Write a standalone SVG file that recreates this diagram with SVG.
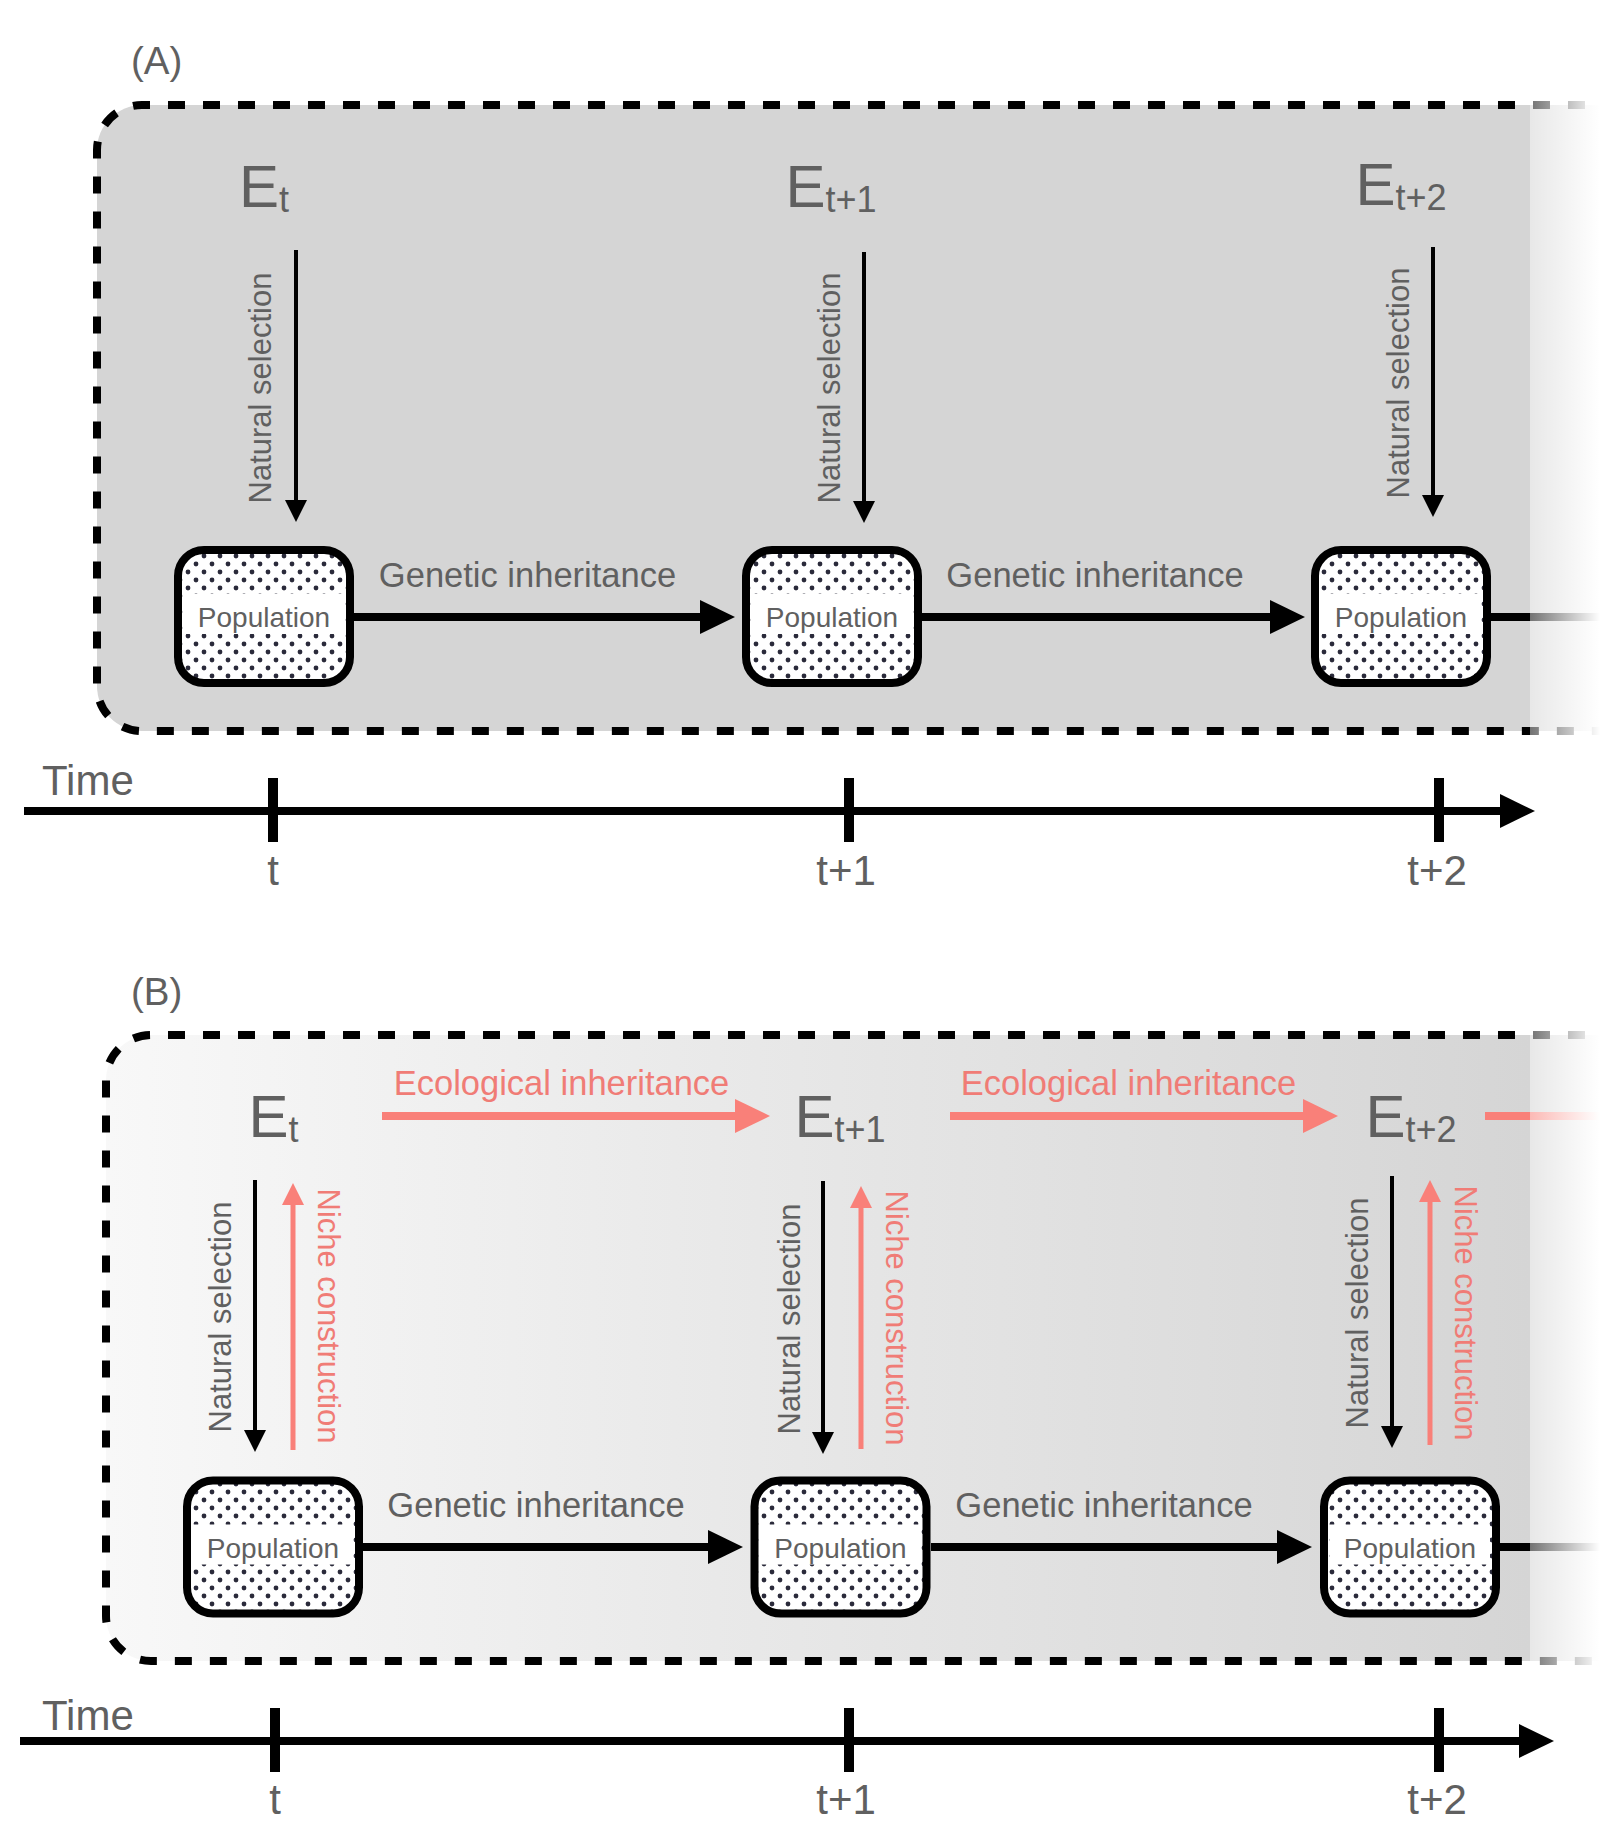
<svg xmlns="http://www.w3.org/2000/svg" width="1600" height="1844" viewBox="0 0 1600 1844">
<defs>
<style>
text { font-family: "Liberation Sans", Arial, Helvetica, sans-serif; fill: #606060; }
.lbl { font-size: 38.5px; }
.E { font-size: 60px; }
.sub { font-size: 36px; }
.ns { font-size: 31px; }
.gi { font-size: 34.5px; }
.red { fill: #f07c76; }
.pop { font-size: 28px; }
.time { font-size: 42px; }
.tick { font-size: 42px; }
.frame { fill: none; stroke: #000; stroke-width: 8; stroke-dasharray: 17 18; }
.box { fill: url(#dots); stroke: #000; stroke-width: 8; }
.labelbg { fill: #fff; }
.thick { stroke: #000; stroke-width: 8; fill: none; }
.thin { stroke: #000; stroke-width: 4; fill: none; }
.redthin { stroke: #f98079; stroke-width: 5; fill: none; }
.redthick { stroke: #f98079; stroke-width: 8; fill: none; }
.tickmark { stroke: #000; stroke-width: 10; }
</style>
<pattern id="dots" patternUnits="userSpaceOnUse" width="16" height="16">
<rect width="16" height="16" fill="#fff"/>
<circle cx="4" cy="4" r="2.4" fill="#2a2a3a"/>
<circle cx="12" cy="12" r="2.4" fill="#2a2a3a"/>
</pattern>
<marker id="hBig" viewBox="0 -17 35 34" markerWidth="35" markerHeight="34" refX="1" refY="0" orient="auto" markerUnits="userSpaceOnUse">
<path d="M0,-17 L35,0 L0,17 Z" fill="#000"/>
</marker>
<marker id="hBigRed" viewBox="0 -17 35 34" markerWidth="35" markerHeight="34" refX="1" refY="0" orient="auto" markerUnits="userSpaceOnUse">
<path d="M0,-17 L35,0 L0,17 Z" fill="#f98079"/>
</marker>
<marker id="hSm" viewBox="0 -11 22 22" markerWidth="22" markerHeight="22" refX="1" refY="0" orient="auto" markerUnits="userSpaceOnUse">
<path d="M0,-11 L22,0 L0,11 Z" fill="#000"/>
</marker>
<marker id="hSmRed" viewBox="0 -11 22 22" markerWidth="22" markerHeight="22" refX="1" refY="0" orient="auto" markerUnits="userSpaceOnUse">
<path d="M0,-11 L22,0 L0,11 Z" fill="#f98079"/>
</marker>
<linearGradient id="gradB" gradientUnits="userSpaceOnUse" x1="106" y1="0" x2="1530" y2="0">
<stop offset="0" stop-color="#f8f8f8"/>
<stop offset="1" stop-color="#d5d5d5"/>
</linearGradient>
<linearGradient id="fade" x1="0" y1="0" x2="1" y2="0">
<stop offset="0" stop-color="#fff" stop-opacity="0.45"/>
<stop offset="1" stop-color="#fff" stop-opacity="1"/>
</linearGradient>
</defs>

<rect width="1600" height="1844" fill="#fff"/>

<!-- Panel A frame -->
<g id="panelA-frame">
<path d="M1620,105 H142 A45,45 0 0 0 97,150 V686 A45,45 0 0 0 142,731 H1620 Z" fill="#d5d5d5"/>
<path class="frame" d="M1620,105 H142 A45,45 0 0 0 97,150 V686 A45,45 0 0 0 142,731 H1620"/>
<text class="lbl" x="131" y="74">(A)</text>
</g>

<!-- Panel B frame -->
<g id="panelB-frame">
<path d="M1530,1035 H151 A45,45 0 0 0 106,1080 V1616 A45,45 0 0 0 151,1661 H1530 Z" fill="url(#gradB)"/>
<rect x="1530" y="1035" width="90" height="626" fill="#d5d5d5"/>
<path class="frame" d="M1620,1035 H151 A45,45 0 0 0 106,1080 V1616 A45,45 0 0 0 151,1661 H1620"/>
<text class="lbl" x="131" y="1005">(B)</text>
</g>

<!-- Connectors -->
<g id="connectors">
<line class="thin" x1="296" y1="250" x2="296" y2="501" marker-end="url(#hSm)"/>
<line class="thin" x1="864" y1="252" x2="864" y2="502" marker-end="url(#hSm)"/>
<line class="thin" x1="1433" y1="247" x2="1433" y2="496" marker-end="url(#hSm)"/>
<line class="thick" x1="354" y1="617" x2="701" y2="617" marker-end="url(#hBig)"/>
<line class="thick" x1="922" y1="617" x2="1271" y2="617" marker-end="url(#hBig)"/>
<line class="thick" x1="1491" y1="617" x2="1620" y2="617"/>
<line class="thin" x1="255" y1="1180" x2="255" y2="1431" marker-end="url(#hSm)"/>
<line class="thin" x1="823" y1="1181" x2="823" y2="1433" marker-end="url(#hSm)"/>
<line class="thin" x1="1392" y1="1176" x2="1392" y2="1427" marker-end="url(#hSm)"/>
<line class="redthin" x1="293" y1="1450" x2="293" y2="1204" marker-end="url(#hSmRed)"/>
<line class="redthin" x1="861" y1="1449" x2="861" y2="1207" marker-end="url(#hSmRed)"/>
<line class="redthin" x1="1430" y1="1445" x2="1430" y2="1201" marker-end="url(#hSmRed)"/>
<line class="redthick" x1="382" y1="1116" x2="736" y2="1116" marker-end="url(#hBigRed)"/>
<line class="redthick" x1="950" y1="1116" x2="1304" y2="1116" marker-end="url(#hBigRed)"/>
<line class="redthick" x1="1485" y1="1116" x2="1620" y2="1116"/>
<line class="thick" x1="363" y1="1547" x2="709" y2="1547" marker-end="url(#hBig)"/>
<line class="thick" x1="931" y1="1547" x2="1278" y2="1547" marker-end="url(#hBig)"/>
<line class="thick" x1="1500" y1="1547" x2="1620" y2="1547"/>
</g>

<!-- Connector labels -->
<g id="connector-labels">
<text class="ns" transform="translate(271,388) rotate(-90)" text-anchor="middle">Natural selection</text>
<text class="ns" transform="translate(840,388) rotate(-90)" text-anchor="middle">Natural selection</text>
<text class="ns" transform="translate(1409,383) rotate(-90)" text-anchor="middle">Natural selection</text>
<text class="gi" x="527.5" y="587" text-anchor="middle">Genetic inheritance</text>
<text class="gi" x="1095" y="587" text-anchor="middle">Genetic inheritance</text>
<text class="ns" transform="translate(231,1317) rotate(-90)" text-anchor="middle">Natural selection</text>
<text class="ns" transform="translate(800,1319) rotate(-90)" text-anchor="middle">Natural selection</text>
<text class="ns" transform="translate(1368,1313) rotate(-90)" text-anchor="middle">Natural selection</text>
<text class="ns red" transform="translate(318,1316) rotate(90)" text-anchor="middle">Niche construction</text>
<text class="ns red" transform="translate(886,1318) rotate(90)" text-anchor="middle">Niche construction</text>
<text class="ns red" transform="translate(1455,1313) rotate(90)" text-anchor="middle">Niche construction</text>
<text class="gi red" x="561.5" y="1095" text-anchor="middle">Ecological inheritance</text>
<text class="gi red" x="1128.5" y="1095" text-anchor="middle">Ecological inheritance</text>
<text class="gi" x="536" y="1517" text-anchor="middle">Genetic inheritance</text>
<text class="gi" x="1104" y="1517" text-anchor="middle">Genetic inheritance</text>
</g>

<!-- Nodes panel A -->
<g id="A-E-t"><text class="E" x="264" y="207" text-anchor="middle">E<tspan class="sub" dy="5">t</tspan></text></g>
<g id="A-E-t1"><text class="E" x="831" y="207" text-anchor="middle">E<tspan class="sub" dy="5">t+1</tspan></text></g>
<g id="A-E-t2"><text class="E" x="1401" y="205" text-anchor="middle">E<tspan class="sub" dy="5">t+2</tspan></text></g>

<g id="A-pop-t">
<rect class="box" x="178" y="550" width="172" height="133" rx="26"/>
<rect class="labelbg" x="184" y="594" width="160" height="40"/>
<text class="pop" x="264" y="627" text-anchor="middle">Population</text>
</g>
<g id="A-pop-t1">
<rect class="box" x="746" y="550" width="172" height="133" rx="26"/>
<rect class="labelbg" x="752" y="594" width="160" height="40"/>
<text class="pop" x="832" y="627" text-anchor="middle">Population</text>
</g>
<g id="A-pop-t2">
<rect class="box" x="1315" y="550" width="172" height="133" rx="26"/>
<rect class="labelbg" x="1321" y="594" width="160" height="40"/>
<text class="pop" x="1401" y="627" text-anchor="middle">Population</text>
</g>

<!-- Nodes panel B -->
<g id="B-E-t"><text class="E" x="273.5" y="1137" text-anchor="middle">E<tspan class="sub" dy="5">t</tspan></text></g>
<g id="B-E-t1"><text class="E" x="840" y="1137" text-anchor="middle">E<tspan class="sub" dy="5">t+1</tspan></text></g>
<g id="B-E-t2"><text class="E" x="1411" y="1137" text-anchor="middle">E<tspan class="sub" dy="5">t+2</tspan></text></g>

<g id="B-pop-t">
<rect class="box" x="187" y="1480.5" width="172" height="133" rx="26"/>
<rect class="labelbg" x="193" y="1524.5" width="160" height="40"/>
<text class="pop" x="273" y="1557.5" text-anchor="middle">Population</text>
</g>
<g id="B-pop-t1">
<rect class="box" x="754.5" y="1480.5" width="172" height="133" rx="26"/>
<rect class="labelbg" x="760.5" y="1524.5" width="160" height="40"/>
<text class="pop" x="840.5" y="1557.5" text-anchor="middle">Population</text>
</g>
<g id="B-pop-t2">
<rect class="box" x="1324" y="1480.5" width="172" height="133" rx="26"/>
<rect class="labelbg" x="1330" y="1524.5" width="160" height="40"/>
<text class="pop" x="1410" y="1557.5" text-anchor="middle">Population</text>
</g>

<!-- Right-side fade -->
<rect x="1530" y="95" width="70" height="646" fill="url(#fade)"/>
<rect x="1530" y="1025" width="70" height="646" fill="url(#fade)"/>

<!-- Time axes -->
<g id="timeA">
<text class="time" x="42" y="795">Time</text>
<line class="thick" x1="24" y1="811" x2="1501" y2="811" marker-end="url(#hBig)"/>
<line class="tickmark" x1="273" y1="778" x2="273" y2="842"/>
<line class="tickmark" x1="849" y1="778" x2="849" y2="842"/>
<line class="tickmark" x1="1439" y1="778" x2="1439" y2="842"/>
<text class="tick" x="273" y="885" text-anchor="middle">t</text>
<text class="tick" x="846" y="885" text-anchor="middle">t+1</text>
<text class="tick" x="1437" y="885" text-anchor="middle">t+2</text>
</g>
<g id="timeB">
<text class="time" x="42" y="1730">Time</text>
<line class="thick" x1="20" y1="1741" x2="1520" y2="1741" marker-end="url(#hBig)"/>
<line class="tickmark" x1="275" y1="1708" x2="275" y2="1772"/>
<line class="tickmark" x1="849" y1="1708" x2="849" y2="1772"/>
<line class="tickmark" x1="1439" y1="1708" x2="1439" y2="1772"/>
<text class="tick" x="275" y="1814" text-anchor="middle">t</text>
<text class="tick" x="846" y="1814" text-anchor="middle">t+1</text>
<text class="tick" x="1437" y="1814" text-anchor="middle">t+2</text>
</g>
</svg>
